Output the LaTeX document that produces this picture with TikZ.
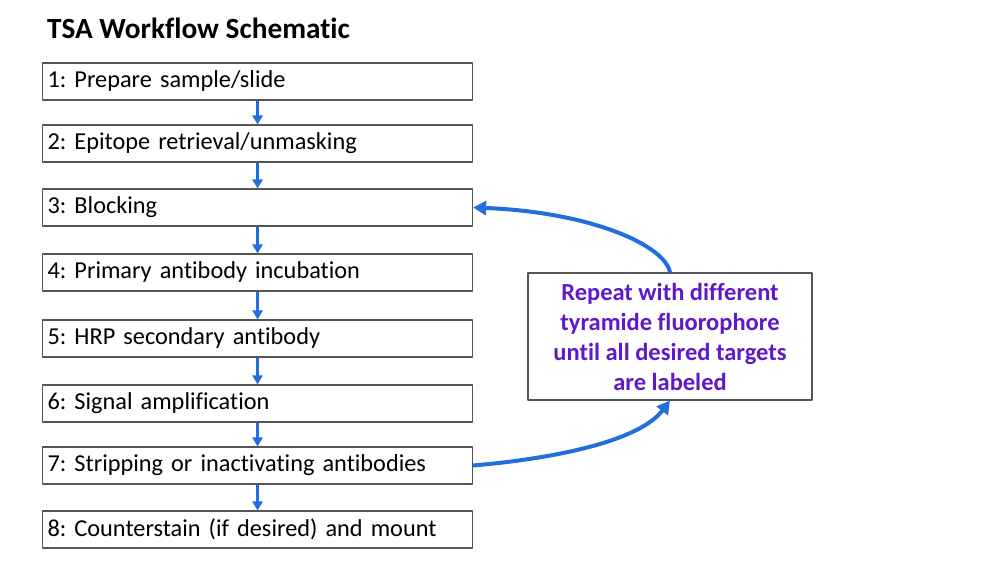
\documentclass[tikz,border=0pt]{standalone}
\usepackage{fontspec}
\setmainfont[Ligatures=NoCommon]{Carlito}
\frenchspacing
\usetikzlibrary{arrows.meta}
\definecolor{flowblue}{RGB}{35,110,220}
\definecolor{reppurple}{RGB}{95,25,200}
\definecolor{boxgray}{RGB}{85,85,85}
\begin{document}
\begin{tikzpicture}[x=1pt,y=-1pt, line join=round,
	stepbox/.style={draw=boxgray, line width=1.1pt, minimum width=430pt, minimum height=37pt, text width=420pt, align=left, inner xsep=5pt, anchor=west, font=\fontsize{24.3}{28}\selectfont},
	repbox/.style={draw=boxgray, line width=1.1pt, minimum width=284pt, minimum height=127pt, align=center, text=reppurple, font=\fontsize{24.5}{30}\selectfont\bfseries},
	flow/.style={-{Triangle[length=9pt,width=10pt]}, draw=flowblue, line width=2.6pt},
	loopback/.style={-{Triangle[length=13pt,width=14pt]}, draw=flowblue, line width=4pt}]
	
	\useasboundingbox[fill=white] (0,0) rectangle (1000,560);
	\node[anchor=west, inner sep=0pt, font=\fontsize{29.3}{33}\selectfont\bfseries] (title) at (47,28) {TSA Workflow Schematic};
	
	\foreach \i/\y/\txt in {1/81.5/{1: Prepare sample/slide}, 2/143.5/{2: Epitope retrieval/unmasking}, 3/207.5/{3: Blocking}, 4/272.5/{4: Primary antibody incubation}, 5/338.5/{5: HRP secondary antibody}, 6/403.5/{6: Signal amplification}, 7/465.5/{7: Stripping or inactivating antibodies}, 8/529.5/{8: Counterstain (if desired) and mount}}
	\node[stepbox] (s\i) at (42,\y) {\txt};
	\foreach \i [evaluate=\i as \j using int(\i+1)] in {1,...,7}
	\draw[flow] (s\i) -- (s\j);
	
	\node[repbox] (rep) at (670,336.5) {Repeat with different\\tyramide fluorophore\\until all desired targets\\are labeled};
	
	%	loop back to blocking
	\draw[loopback] (s7.east) .. controls (560,458) and (640,440) .. (rep.south);
	\draw[loopback] (rep.north) .. controls (665,245) and (590,212) .. (s3.east);
\end{tikzpicture}
\end{document}
